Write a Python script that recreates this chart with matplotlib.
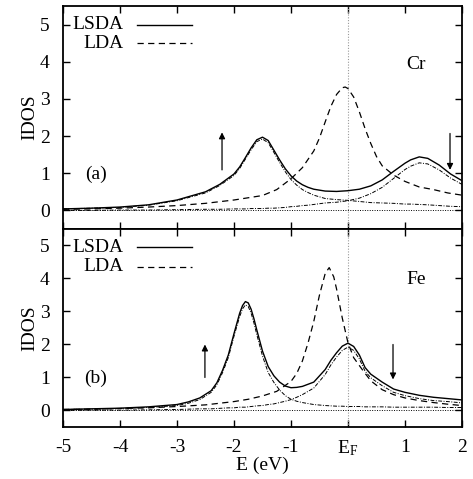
import numpy as np
import matplotlib
matplotlib.use("Agg")
import matplotlib.pyplot as plt

plt.rcParams['font.family'] = ['Liberation Serif', 'DejaVu Serif']
plt.rcParams['mathtext.fontset'] = 'custom'
plt.rcParams['mathtext.rm'] = 'Liberation Serif'
plt.rcParams['mathtext.it'] = 'Liberation Serif'

# ---- panel (a): Cr ----
cr_e = [-5, -4.5, -4, -3.5, -3, -2.5, -2.25, -2, -1.9, -1.8, -1.7, -1.6, -1.5, -1.4, -1.3,
        -1.2, -1.1, -1, -0.9, -0.8, -0.7, -0.6, -0.4, -0.2, 0, 0.2, 0.4, 0.6, 0.8, 1,
        1.1, 1.25, 1.4, 1.6, 1.8, 2]
cr_lsda = [0.04, 0.06, 0.09, 0.15, 0.28, 0.5, 0.7, 0.98, 1.17, 1.42, 1.68, 1.9, 1.97, 1.88, 1.62,
           1.36, 1.12, 0.93, 0.79, 0.69, 0.62, 0.57, 0.52, 0.51, 0.53, 0.57, 0.66, 0.82, 1.05, 1.27,
           1.36, 1.44, 1.4, 1.22, 0.98, 0.8]
cr_up = [0.04, 0.06, 0.08, 0.14, 0.26, 0.47, 0.67, 0.94, 1.13, 1.38, 1.63, 1.85, 1.92, 1.82, 1.56,
         1.29, 1.04, 0.83, 0.68, 0.56, 0.48, 0.41, 0.32, 0.29, 0.27, 0.24, 0.21, 0.2, 0.19, 0.17,
         0.17, 0.16, 0.15, 0.13, 0.11, 0.1]
cr_dn = [0.0, 0.0, 0.01, 0.01, 0.02, 0.03, 0.03, 0.04, 0.04, 0.04, 0.05, 0.05, 0.05, 0.06, 0.06,
         0.07, 0.08, 0.1, 0.11, 0.13, 0.14, 0.16, 0.2, 0.22, 0.26, 0.33, 0.45, 0.62, 0.86, 1.1,
         1.19, 1.28, 1.25, 1.09, 0.87, 0.7]
cr_lda_e = [-5, -4.5, -4, -3.5, -3, -2.5, -2, -1.5, -1.25, -1, -0.8, -0.6, -0.5, -0.4, -0.3,
            -0.2, -0.1, -0.05, 0, 0.1, 0.2, 0.3, 0.4, 0.5, 0.6, 0.8, 1, 1.25, 1.5, 1.75, 2]
cr_lda = [0.03, 0.04, 0.06, 0.09, 0.13, 0.19, 0.28, 0.4, 0.56, 0.85, 1.15, 1.6, 1.95, 2.38, 2.8,
          3.12, 3.3, 3.32, 3.28, 3.05, 2.65, 2.2, 1.8, 1.45, 1.2, 0.95, 0.78, 0.63, 0.56, 0.47, 0.41]

# ---- panel (b): Fe ----
fe_e = [-5, -4.5, -4, -3.5, -3, -2.8, -2.6, -2.4, -2.3, -2.2, -2.1, -2.0, -1.95, -1.9, -1.85,
        -1.8, -1.75, -1.7, -1.65, -1.6, -1.5, -1.4, -1.3, -1.2, -1.1, -1.0, -0.9, -0.8, -0.6,
        -0.4, -0.3, -0.2, -0.1, 0, 0.1, 0.2, 0.3, 0.4, 0.6, 0.8, 1.0, 1.25, 1.5, 1.75, 2]
fe_lsda = [0.03, 0.05, 0.07, 0.11, 0.18, 0.26, 0.38, 0.6, 0.84, 1.22, 1.68, 2.33, 2.64, 2.95, 3.18,
           3.3, 3.26, 3.07, 2.78, 2.44, 1.8, 1.33, 1.05, 0.86, 0.74, 0.69, 0.7, 0.73, 0.86,
           1.24, 1.52, 1.75, 1.95, 2.04, 1.94, 1.68, 1.3, 1.1, 0.86, 0.65, 0.55, 0.46, 0.4, 0.36, 0.32]
fe_up = [0.03, 0.04, 0.06, 0.09, 0.15, 0.22, 0.33, 0.55, 0.78, 1.15, 1.6, 2.25, 2.55, 2.85, 3.08,
         3.2, 3.15, 2.95, 2.65, 2.3, 1.65, 1.15, 0.85, 0.62, 0.45, 0.34, 0.28, 0.24, 0.18,
         0.15, 0.14, 0.13, 0.13, 0.12, 0.12, 0.12, 0.11, 0.11, 0.11, 0.1, 0.1, 0.1, 0.1, 0.09, 0.09]
fe_dn = [0.0, 0.01, 0.01, 0.02, 0.03, 0.04, 0.05, 0.05, 0.06, 0.07, 0.08, 0.08, 0.09, 0.1, 0.1,
         0.1, 0.11, 0.12, 0.13, 0.14, 0.15, 0.18, 0.2, 0.24, 0.28, 0.33, 0.4, 0.48, 0.68,
         1.09, 1.38, 1.62, 1.82, 1.92, 1.82, 1.56, 1.19, 0.99, 0.75, 0.55, 0.45, 0.36, 0.3, 0.27, 0.23]
fe_lda_e = [-5, -4.5, -4, -3.5, -3, -2.5, -2, -1.75, -1.5, -1.25, -1.0, -0.9, -0.8, -0.7, -0.6,
            -0.5, -0.4, -0.33, -0.25, -0.2, -0.1, 0, 0.1, 0.25, 0.4, 0.6, 0.8, 1.0, 1.25, 1.5,
            1.75, 2]
fe_lda = [0.03, 0.04, 0.06, 0.08, 0.12, 0.17, 0.27, 0.34, 0.44, 0.58, 0.88, 1.12, 1.5, 2.05, 2.7,
          3.5, 4.15, 4.33, 4.05, 3.68, 2.8, 2.05, 1.6, 1.24, 0.9, 0.63, 0.48, 0.38, 0.3, 0.24,
          0.19, 0.15]

x_ticks = [-5, -4, -3, -2, -1, 0, 1, 2]
x_labels = ['-5', '-4', '-3', '-2', '-1', r'E$_{\rm F}$', '1', '2']
y_ticks = [0, 1, 2, 3, 4, 5]

panels = [
    dict(e=cr_e, lsda=cr_lsda, up=cr_up, dn=cr_dn, lda_e=cr_lda_e, lda=cr_lda,
         tag='(a)', tag_xy=(-4.42, 0.96), name='Cr', name_xy=(1.19, 3.93),
         up_arrow=(-2.21, 1.09, 2.1), dn_arrow=(1.79, 2.07, 1.09), key_y=(0.915, 0.834)),
    dict(e=fe_e, lsda=fe_lsda, up=fe_up, dn=fe_dn, lda_e=fe_lda_e, lda=fe_lda,
         tag='(b)', tag_xy=(-4.42, 0.96), name='Fe', name_xy=(1.19, 3.97),
         up_arrow=(-2.51, 1.0, 2.0), dn_arrow=(0.79, 2.0, 0.94), key_y=(0.909, 0.808)),
]

fig, axes = plt.subplots(2, 1, figsize=(4.73, 4.79), dpi=100, sharex=True,
                         gridspec_kw=dict(height_ratios=[223, 198]))
fig.subplots_adjust(left=0.1332, right=0.9767, top=0.9875, bottom=0.1086, hspace=0)

for ax, p in zip(axes, panels):
    ax.axvline(0, color='#999999', lw=0.8, ls=(0, (1, 1.5)))
    ax.axhline(0, color='black', lw=0.7, ls=(0, (1, 1.5)))
    ax.plot(p['e'], p['up'], color='black', lw=0.7, ls=(0, (4, 1.5, 1, 1.5)))
    ax.plot(p['e'], p['dn'], color='black', lw=0.7, ls=(0, (4, 1.5, 1, 1.5)))
    ax.plot(p['lda_e'], p['lda'], color='black', lw=0.9, ls=(0, (5, 3.5)))
    ax.plot(p['e'], p['lsda'], color='black', lw=1.0)

    ax.set_xlim(-5, 2)
    ax.set_ylim(-0.5, 5.5)
    ax.set_yticks(y_ticks)
    ax.set_ylabel('IDOS', fontsize=14, labelpad=1)
    ax.tick_params(direction='in', length=5, width=1, top=True, right=True,
                   labelsize=14)
    ax.tick_params(axis='y', pad=9.5)
    ax.tick_params(axis='x', pad=8.5)
    for s in ax.spines.values():
        s.set_linewidth(1.3)

    ax.text(*p['tag_xy'], p['tag'], fontsize=14, ha='center', va='center')
    ax.text(*p['name_xy'], p['name'], fontsize=14, ha='center', va='center')
    x, y0, y1 = p['up_arrow']
    ax.annotate('', xy=(x, y1), xytext=(x, y0),
                arrowprops=dict(arrowstyle='-|>', color='black', lw=0.9,
                                mutation_scale=9, shrinkA=0, shrinkB=0))
    x, y0, y1 = p['dn_arrow']
    ax.annotate('', xy=(x, y1), xytext=(x, y0),
                arrowprops=dict(arrowstyle='-|>', color='black', lw=0.9,
                                mutation_scale=9, shrinkA=0, shrinkB=0))

    # gnuplot-like key: right aligned text, sample line on the right
    k1, k2 = p['key_y']
    ax.text(0.152, k1, 'LSDA', transform=ax.transAxes, fontsize=14,
            ha='right', va='center')
    ax.text(0.152, k2, 'LDA', transform=ax.transAxes, fontsize=14,
            ha='right', va='center')
    ax.plot([0.185, 0.323], [k1, k1], transform=ax.transAxes, color='black', lw=1.0)
    ax.plot([0.185, 0.323], [k2, k2], transform=ax.transAxes, color='black', lw=0.9,
            ls=(0, (5, 3.5)))

axes[0].tick_params(labelbottom=False)
axes[1].set_xticks(x_ticks)
axes[1].set_xticklabels(x_labels)
axes[1].set_xlabel('E (eV)', fontsize=14, labelpad=-1)

fig.savefig('out.png', dpi=100)
